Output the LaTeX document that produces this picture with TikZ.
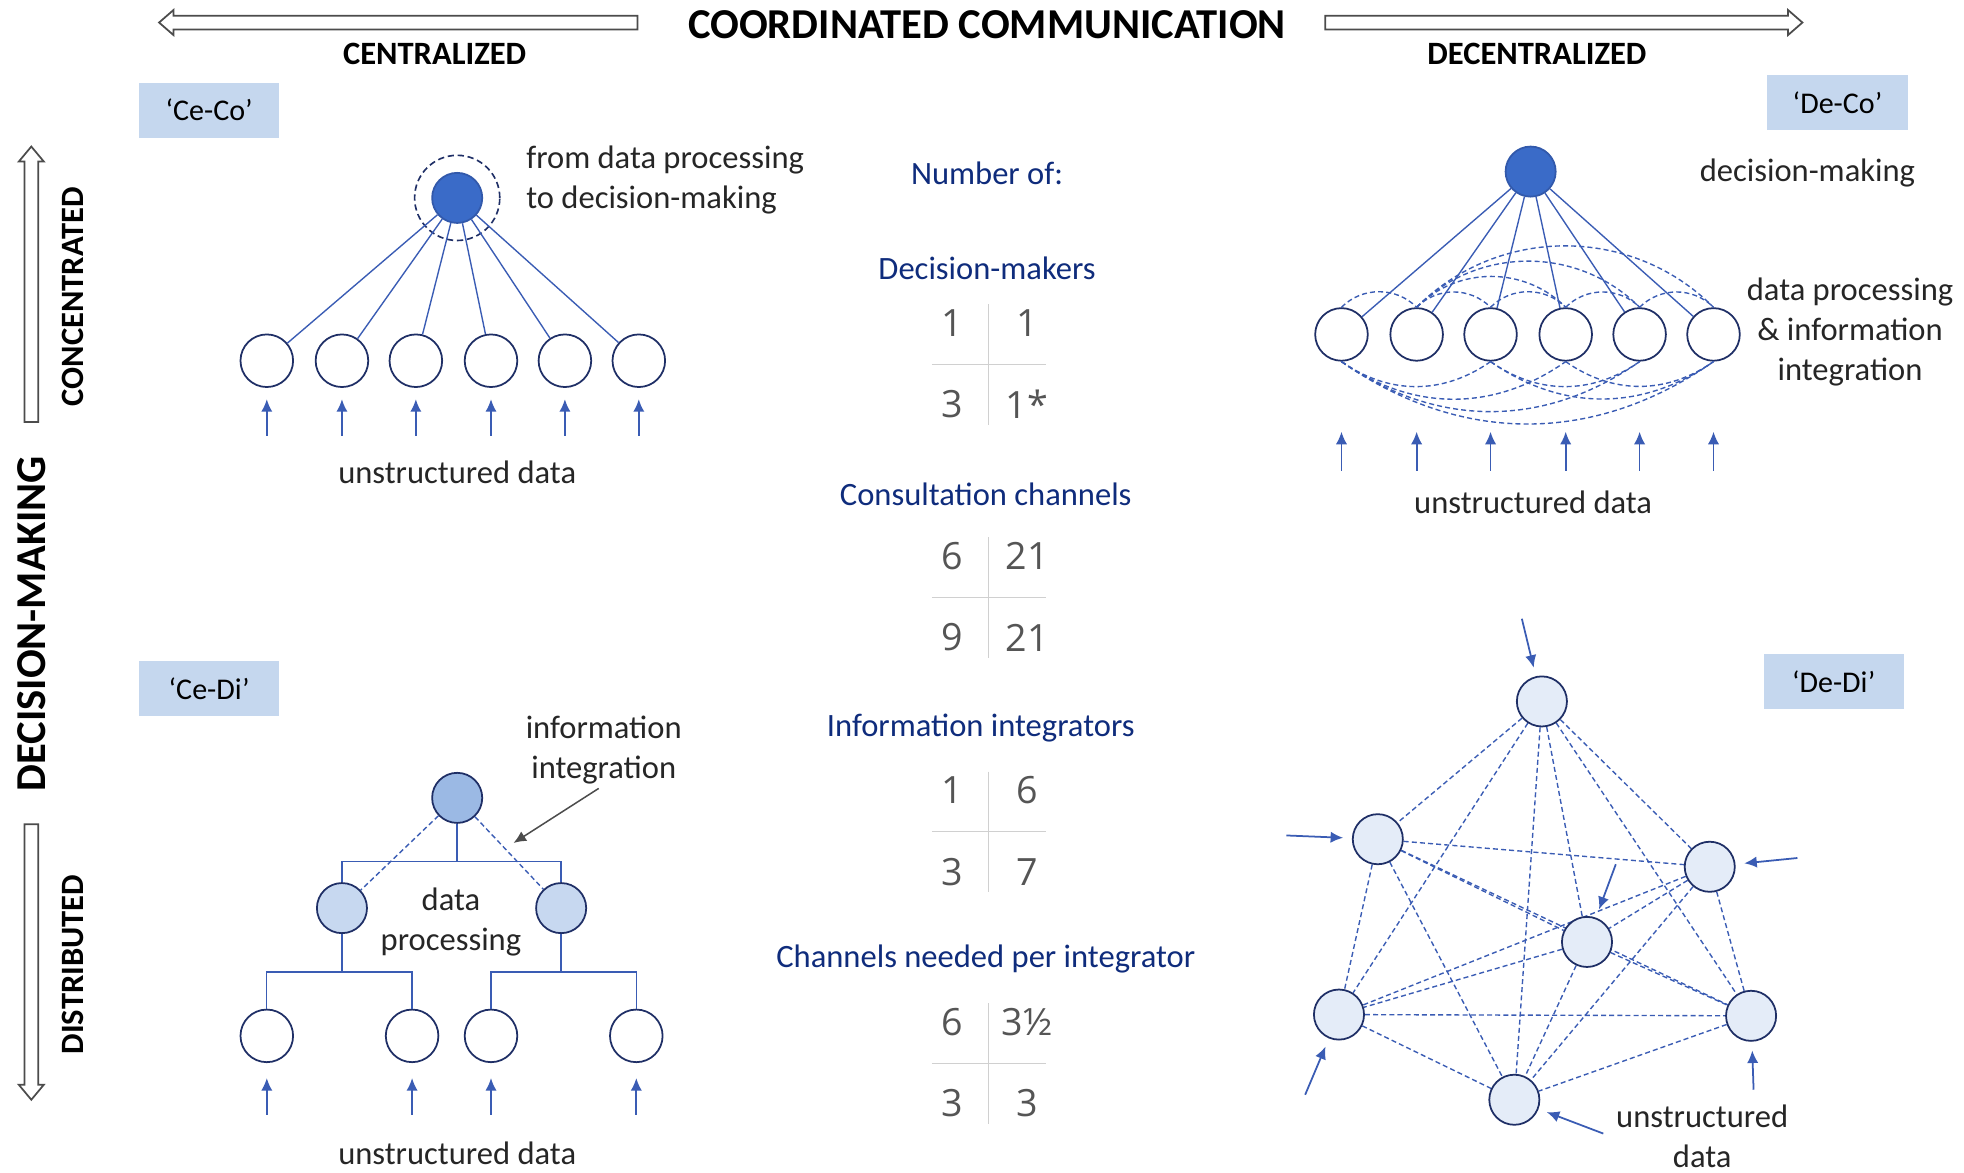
\documentclass[tikz,border=0pt]{standalone}
\usepackage{fontspec}
\setmainfont{Carlito}
\newfontfamily\digitfont{Open Sans}
\usetikzlibrary{arrows.meta,positioning,backgrounds}
\definecolor{navy}{HTML}{1F2F66}
\definecolor{linkblue}{HTML}{3A5CB4}
\definecolor{bossblue}{HTML}{3A6BC8}
\definecolor{midblue}{HTML}{9BB9E4}
\definecolor{paleblue}{HTML}{C7D8F0}
\definecolor{faintblue}{HTML}{E4ECF8}
\definecolor{tagblue}{HTML}{C5D7EE}
\definecolor{headblue}{HTML}{0F2C7C}
\definecolor{numgray}{HTML}{555555}
\definecolor{rulegray}{HTML}{D0D0D0}
\begin{document}
\begin{tikzpicture}[>={Latex[length=10pt,width=9pt]},x=1pt,y=1pt,
	txt/.style={font=\fontsize{26}{32}\selectfont,text=black!85,align=center,inner sep=0pt},
	axislabel/.style={font=\bfseries\fontsize{26}{30}\selectfont,inner sep=0pt},
	hollow/.style={draw=black!70,line width=1.4pt,fill=white,line join=miter},
	tag/.style={fill=tagblue,minimum width=112pt,minimum height=44pt,inner sep=0pt,font=\fontsize{24}{28}\selectfont},
	heading/.style={font=\fontsize{26}{30}\selectfont,text=headblue,inner sep=0pt},
	num/.style={font=\digitfont\fontsize{30}{36}\selectfont,text=numgray,inner sep=0pt},
	leaf/.style={circle,draw=navy,line width=1.4pt,fill=white,minimum size=42pt,inner sep=0pt},
	boss/.style={leaf,fill=bossblue,draw=bossblue!70!navy,minimum size=40pt},
	link/.style={draw=linkblue,line width=1.1pt},
	dlink/.style={link,dash pattern=on 4pt off 2.5pt},
	feed/.style={->,draw=linkblue,line width=1.4pt},
	pointer/.style={->,draw=black!70,line width=1.2pt}]
	\begin{scope}[on background layer]
		\fill[white] (0,0) rectangle (1568,-936);
	\end{scope}
	\useasboundingbox (0,0) rectangle (1568,-936);
	% truc ngang
	\draw[hollow] (509,-12.5) -- (138.5,-12.5) -- (138.5,-8) -- (127,-18) -- (138.5,-28) -- (138.5,-23.5) -- (509,-23.5) -- cycle;
	\draw[hollow] (1058,-12.5) -- (1427.5,-12.5) -- (1427.5,-8) -- (1439,-18) -- (1427.5,-28) -- (1427.5,-23.5) -- (1058,-23.5) -- cycle;
	\node[axislabel,font=\bfseries\fontsize{34}{40}\selectfont] (coord) at (788,-20) {COORDINATED COMMUNICATION};
	\node[axislabel] (centr) at (347,-43) {CENTRALIZED};
	\node[axislabel] (decentr) at (1227,-43) {DECENTRALIZED};
	% truc doc
	\draw[hollow] (19.5,-337) -- (19.5,-129) -- (15,-129) -- (25,-117) -- (35,-129) -- (30.5,-129) -- (30.5,-337) -- cycle;
	\draw[hollow] (19.5,-658) -- (19.5,-866) -- (15,-866) -- (25,-878) -- (35,-866) -- (30.5,-866) -- (30.5,-658) -- cycle;
	\node[axislabel,font=\bfseries\fontsize{34}{40}\selectfont,rotate=90] (decm) at (25,-498) {DECISION-MAKING};
	\node[axislabel,rotate=90] (conc) at (58,-237) {CONCENTRATED};
	\node[axislabel,rotate=90] (distr) at (58,-770) {DISTRIBUTED};
	% Ce-Co
	\node[tag] (ceco) at (167,-88) {‘Ce-Co’};
	\node[boss] (cc) at (365,-158) {};
	\draw[navy,line width=1.3pt,dash pattern=on 5pt off 3pt] (cc) circle (34);
	\foreach \i/\x in {1/213,2/273,3/332,4/392,5/451,6/510}{
		\node[leaf] (cc\i) at (\x,-288) {};
		\coordinate (ccin\i) at (\x,-348);
		\draw[link] (cc) -- (cc\i);
		\draw[feed,shorten >=9pt] (ccin\i) -- (cc\i);
	}
	\node[txt,align=left,anchor=west] (ccnote) at (420,-144) {from data processing\\to decision-making};
	\node[txt] (ccdata) at (365,-377) {unstructured data};
	% De-Co
	\node[tag] (deco) at (1467,-82) {‘De-Co’};
	\node[boss] (dc) at (1222,-137) {};
	\foreach \i/\x in {1/1071,2/1131,3/1190,4/1250,5/1309,6/1368}{
		\node[leaf] (dc\i) at (\x,-267) {};
		\coordinate (dcin\i) at (\x,-376);
		\draw[link] (dc) -- (dc\i);
		\draw[feed,shorten >=56pt] (dcin\i) -- (dc\i);
	}
	\foreach \p/\q in {1/2,2/3,2/4,2/5,2/6,3/4,4/5,5/6}
		\draw[dlink] (dc\p.north) to[out=45,in=135] (dc\q.north); % cung phia tren
	\foreach \p/\q in {1/3,1/4,1/5,1/6,3/5,3/6,4/6}
		\draw[dlink] (dc\p.south) to[out=-35,in=-145] (dc\q.south); % cung phia duoi
	\node[txt] (dcdm) at (1443,-138) {decision-making};
	\node[txt] (dcnote) at (1477,-265) {data processing\\\& information\\integration};
	\node[txt] (dcdata) at (1224,-401) {unstructured data};
	% Ce-Di
	\node[tag] (cedi) at (167,-550) {‘Ce-Di’};
	\node[leaf,fill=midblue,minimum size=40pt] (cit) at (365,-637) {};
	\node[leaf,fill=paleblue,minimum size=40pt] (cia) at (273,-725) {};
	\node[leaf,fill=paleblue,minimum size=40pt] (cib) at (448,-725) {};
	\foreach \i/\x in {1/213,2/329,3/392,4/508}{
		\node[leaf] (ci\i) at (\x,-827) {};
		\coordinate (ciin\i) at (\x,-890);
		\draw[feed,shorten >=12pt] (ciin\i) -- (ci\i);
	}
	\coordinate (citbar) at (365,-688);
	\coordinate (ciabar) at (273,-776);
	\coordinate (cibbar) at (448,-776);
	\draw[link] (cit) -- (citbar) (cia) |- (citbar) -| (cib);
	\draw[link] (cia) -- (ciabar) (ci1) |- (ciabar) -| (ci2);
	\draw[link] (cib) -- (cibbar) (ci3) |- (cibbar) -| (ci4);
	\draw[dlink] (cit) -- (cia) (cit) -- (cib);
	\node[txt] (cinote) at (482,-599) {information\\integration};
	\coordinate (citip) at (410,-673);
	\draw[pointer] ([xshift=-4pt,yshift=-3pt]cinote.south) -- (citip);
	\node[txt] (cidp) at (360,-736) {data\\processing};
	\node[txt] (cidata) at (365,-921) {unstructured data};
	% De-Di
	\node[tag] (dedi) at (1464,-544) {‘De-Di’};
	\foreach \i/\x/\y in {1/1231/560,2/1100/670,3/1365/692,4/1267/752,5/1069/810,6/1398/811,7/1209/878}
		\node[leaf,fill=faintblue,minimum size=40pt] (dd\i) at (\x,-\y) {};
	\begin{scope}[on background layer]
		\foreach \i in {1,...,6}{
			\pgfmathtruncatemacro\k{\i+1}
			\foreach \j in {\k,...,7} \draw[dlink] (dd\i) -- (dd\j);
		}
	\end{scope}
	\foreach \i/\x/\y in {1/1215/494,2/1027/667,3/1435/685,4/1290/690,5/1042/874,6/1400/870,7/1280/905}{
		\coordinate (ddin\i) at (\x,-\y);
		\draw[feed,shorten >=7pt] (ddin\i) -- (dd\i);
	}
	\node[txt] (dddata) at (1359,-907) {unstructured\\data};
	% bang so lieu
	\node[heading] (numof) at (788,-138) {Number of:};
	\node[heading] (hdm) at (788,-214) {Decision-makers};
	\node[heading] (hcc) at (787,-395) {Consultation channels};
	\node[heading] (hii) at (783,-581) {Information integrators};
	\node[heading] (hch) at (787,-766) {Channels needed per integrator};
	\foreach \tb/\y/\na/\nb/\nc/\nd in {dmk/258/1/1/3/1*,cch/444/6/21/9/21,iin/631/1/6/3/7,cpi/816/6/3½/3/3}{
		\node[num] (\tb-nw) at (760,-\y) {\na};
		\node[num] (\tb-ne) at (820,-\y) {\nb};
		\node[num] (\tb-sw) at (760,-\y-65) {\nc};
		\node[num] (\tb-se) at (820,-\y-65) {\nd};
		\draw[rulegray,line width=1.2pt] (789,-\y+15) -- (789,-\y-81) (744,-\y-33) -- (835,-\y-33);
	}
\end{tikzpicture}
\end{document}
